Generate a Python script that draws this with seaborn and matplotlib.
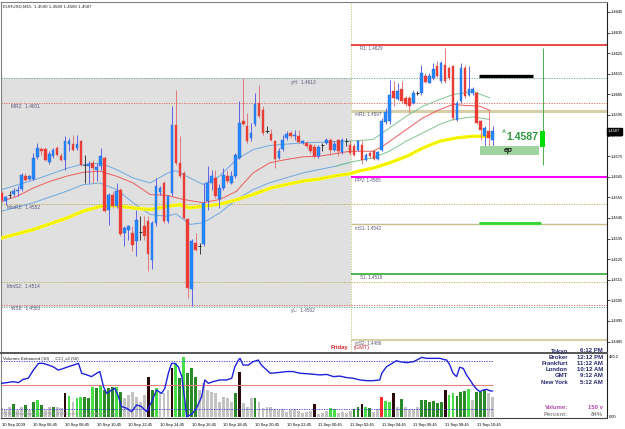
import numpy as np
import matplotlib
matplotlib.use("Agg")
import matplotlib.pyplot as plt
import seaborn as sns

# --- EURUSD M15 bars (bar 0 = 10 Sep 04:45) ---
bar_open = [
    1.45572, 1.45531, 1.45560, 1.45568, 1.45580, 1.45591, 1.45656, 1.45640, 1.45640, 1.45746,
    1.45785, 1.45785, 1.45721, 1.45753, 1.45790, 1.45753, 1.45733, 1.45811, 1.45811, 1.45788,
    1.45822, 1.45709, 1.45701, 1.45717, 1.45682, 1.45701, 1.45742, 1.45491, 1.45564, 1.45510,
    1.45585, 1.45378, 1.45394, 1.45378, 1.45337, 1.45386, 1.45410, 1.45434, 1.45248, 1.45426,
    1.45575, 1.45620, 1.45434, 1.45572, 1.45903, 1.45717, 1.45669, 1.45443, 1.45103, 1.45330,
    1.45313, 1.45322, 1.45532, 1.45621, 1.45645, 1.45540, 1.45596, 1.45653, 1.45621, 1.45653,
    1.45742, 1.45920, 1.45896, 1.45839, 1.45904, 1.46009, 1.45976, 1.45876, 1.45860, 1.45823,
    1.45742, 1.45786, 1.45839, 1.45863, 1.45847, 1.45847, 1.45812, 1.45815, 1.45802, 1.45795,
    1.45753, 1.45802, 1.45815, 1.45828, 1.45782, 1.45831, 1.45770, 1.45823, 1.45802, 1.45799,
    1.45782, 1.45802, 1.45731, 1.45766, 1.45774, 1.45737, 1.45782, 1.45915, 1.45920, 1.46065,
    1.46028, 1.46074, 1.46033, 1.46033, 1.46009, 1.46057, 1.46057, 1.46141, 1.46106, 1.46130,
    1.46187, 1.46114, 1.46195, 1.46179, 1.46187, 1.45928, 1.46017, 1.46179, 1.46049, 1.46057,
    1.46057, 1.45920, 1.45847, 1.45874, 1.45831,
]
bar_high = [
    1.45580, 1.45559, 1.45580, 1.45596, 1.45604, 1.45669, 1.45669, 1.45661, 1.45766, 1.45814,
    1.45795, 1.45795, 1.45774, 1.45790, 1.45801, 1.45766, 1.45847, 1.45839, 1.45855, 1.45855,
    1.45830, 1.45758, 1.45725, 1.45733, 1.45717, 1.45790, 1.45750, 1.45572, 1.45580, 1.45620,
    1.45596, 1.45410, 1.45418, 1.45410, 1.45491, 1.45459, 1.45459, 1.45459, 1.45434, 1.45644,
    1.45604, 1.45628, 1.45564, 1.45992, 1.46073, 1.45847, 1.45677, 1.45451, 1.45346, 1.45378,
    1.45330, 1.45621, 1.45702, 1.45685, 1.45685, 1.45613, 1.45693, 1.45685, 1.45677, 1.45766,
    1.46017, 1.46130, 1.45960, 1.45912, 1.46057, 1.46098, 1.45993, 1.45896, 1.45880, 1.45831,
    1.45790, 1.45855, 1.45871, 1.45871, 1.45876, 1.45879, 1.45831, 1.45823, 1.45815, 1.45807,
    1.45802, 1.45815, 1.45839, 1.45839, 1.45823, 1.45834, 1.45839, 1.45839, 1.45831, 1.45815,
    1.45831, 1.45831, 1.45766, 1.45774, 1.45782, 1.45774, 1.45936, 1.45985, 1.46122, 1.46114,
    1.46106, 1.46114, 1.46044, 1.46041, 1.46073, 1.46065, 1.46195, 1.46154, 1.46154, 1.46200,
    1.46211, 1.46211, 1.46276, 1.46187, 1.46195, 1.46017, 1.46203, 1.46195, 1.46187, 1.46085,
    1.46065, 1.45928, 1.45896, 1.45976, 1.45896,
]
bar_low = [
    1.45527, 1.45515, 1.45547, 1.45559, 1.45559, 1.45580, 1.45628, 1.45633, 1.45636, 1.45737,
    1.45758, 1.45725, 1.45714, 1.45742, 1.45750, 1.45725, 1.45685, 1.45774, 1.45774, 1.45782,
    1.45701, 1.45620, 1.45620, 1.45620, 1.45628, 1.45685, 1.45480, 1.45418, 1.45499, 1.45499,
    1.45362, 1.45313, 1.45345, 1.45289, 1.45264, 1.45345, 1.45345, 1.45192, 1.45200, 1.45410,
    1.45564, 1.45426, 1.45426, 1.45556, 1.45709, 1.45644, 1.45443, 1.45063, 1.45022, 1.45289,
    1.45273, 1.45313, 1.45491, 1.45588, 1.45548, 1.45499, 1.45588, 1.45621, 1.45613, 1.45645,
    1.45734, 1.45896, 1.45815, 1.45823, 1.45896, 1.45936, 1.45855, 1.45863, 1.45823, 1.45693,
    1.45734, 1.45774, 1.45831, 1.45839, 1.45831, 1.45815, 1.45807, 1.45790, 1.45766, 1.45742,
    1.45742, 1.45774, 1.45807, 1.45758, 1.45774, 1.45753, 1.45763, 1.45799, 1.45758, 1.45750,
    1.45774, 1.45714, 1.45726, 1.45742, 1.45731, 1.45731, 1.45774, 1.45904, 1.45904, 1.45993,
    1.46022, 1.46009, 1.45993, 1.45960, 1.46001, 1.46049, 1.46049, 1.46103, 1.46103, 1.46122,
    1.46135, 1.46106, 1.46106, 1.46122, 1.45928, 1.45920, 1.46009, 1.46033, 1.46041, 1.46049,
    1.45908, 1.45831, 1.45799, 1.45799, 1.45799,
]
bar_close = [
    1.45537, 1.45552, 1.45562, 1.45580, 1.45585, 1.45661, 1.45636, 1.45653, 1.45742, 1.45790,
    1.45774, 1.45733, 1.45759, 1.45782, 1.45758, 1.45733, 1.45822, 1.45822, 1.45782, 1.45811,
    1.45709, 1.45707, 1.45712, 1.45693, 1.45696, 1.45750, 1.45483, 1.45564, 1.45507, 1.45580,
    1.45370, 1.45402, 1.45410, 1.45321, 1.45439, 1.45384, 1.45362, 1.45273, 1.45426, 1.45604,
    1.45596, 1.45434, 1.45556, 1.45903, 1.45717, 1.45653, 1.45451, 1.45111, 1.45338, 1.45297,
    1.45315, 1.45524, 1.45621, 1.45653, 1.45556, 1.45596, 1.45661, 1.45629, 1.45653, 1.45758,
    1.45912, 1.45904, 1.45823, 1.45863, 1.46001, 1.45944, 1.45863, 1.45874, 1.45831, 1.45734,
    1.45774, 1.45831, 1.45860, 1.45850, 1.45855, 1.45818, 1.45823, 1.45799, 1.45774, 1.45750,
    1.45795, 1.45803, 1.45831, 1.45779, 1.45807, 1.45774, 1.45831, 1.45824, 1.45766, 1.45758,
    1.45823, 1.45731, 1.45758, 1.45750, 1.45734, 1.45769, 1.45920, 1.45963, 1.46049, 1.46033,
    1.46065, 1.46017, 1.46001, 1.45993, 1.46057, 1.46059, 1.46154, 1.46109, 1.46141, 1.46174,
    1.46141, 1.46203, 1.46114, 1.46130, 1.45936, 1.46009, 1.46179, 1.46041, 1.46077, 1.46077,
    1.45912, 1.45879, 1.45887, 1.45839, 1.45874,
]

# tick volume per bar and its "Volumes Enhanced" class
# g = grey, d = dark green, l = light green, k = black, r = red
bar_volume = [
    67, 54, 74, 100, 54, 74, 92, 54, 118, 130,
    92, 54, 74, 79, 74, 67, 182, 161, 118, 143,
    156, 151, 143, 228, 220, 246, 207, 220, 233, 233,
    194, 143, 169, 194, 156, 118, 169, 309, 207, 220,
    194, 182, 207, 373, 411, 297, 462, 335, 373, 309,
    207, 258, 207, 194, 182, 118, 156, 143, 118, 182,
    348, 105, 79, 143, 143, 118, 67, 79, 74, 59,
    54, 64, 41, 54, 59, 49, 33, 41, 49, 100,
    20, 28, 49, 67, 59, 28, 41, 33, 49, 59,
    74, 100, 74, 67, 41, 59, 151, 125, 118, 182,
    74, 136, 74, 59, 59, 74, 130, 130, 118, 125,
    110, 118, 207, 169, 182, 161, 194, 202, 212, 130,
    194, 194, 207, 182, 156,
]
volume_class = list(
    "gggdggdgdl" "dggdggklgl" "lddldldddl" "dggggggkdl" "gggkldlddd"
    "gggggggggd" "kgggdggggg" "gggggggggk" "gggllggggd" "dkldggrllk"
    "gdggggdddd" "ddklldddlg" "dddgg"
)

# moving averages, sampled at bar positions
slow_ma_bar = [0, 8, 16.5, 20.5, 25, 29, 33, 37.5, 42, 45, 47.5, 51, 55, 59.5, 63.5,
               68, 72, 76, 80.4, 84.7, 88, 90, 94, 98, 102.4, 106.4, 110.7, 115, 119, 123.3]
slow_ma = [1.45353, 1.45394, 1.45450, 1.45483, 1.45507, 1.45510, 1.45499, 1.45491, 1.45507,
           1.45515, 1.45499, 1.45507, 1.45516, 1.45540, 1.45564, 1.45596, 1.45613, 1.45629,
           1.45640, 1.45656, 1.45665, 1.45677, 1.45693, 1.45718, 1.45750, 1.45790, 1.45823,
           1.45839, 1.45847, 1.45847]
mid_ma_bar = [0, 4, 8, 12.2, 16.4, 20.6, 24.8, 29, 33.2, 37.5, 41.7, 45.9, 50.9, 55.1, 59.3,
              63.5, 67.7, 71.9, 76.1, 80.3, 84.5, 87.9, 93.8, 96.3, 102.2, 106.4, 110.6, 114,
              117.4, 120.7, 123.3]
mid_ma = [1.45531, 1.45556, 1.45596, 1.45628, 1.45653, 1.45672, 1.45677, 1.45653, 1.45620,
          1.45564, 1.45560, 1.45540, 1.45524, 1.45540, 1.45580, 1.45669, 1.45718, 1.45734,
          1.45747, 1.45750, 1.45763, 1.45774, 1.45774, 1.45799, 1.45879, 1.45936, 1.45976,
          1.46001, 1.45996, 1.45993, 1.45973]
upper_band_bar = [0, 8.4, 16.8, 20, 25, 29, 33.2, 37.5, 42, 44, 46.6, 50.9, 55, 59.3, 63.5,
                  67.7, 76.1, 87.9, 93.8, 102.2, 106.4, 110.6, 114, 119, 123.3]
upper_band = [1.45588, 1.45636, 1.45693, 1.45709, 1.45717, 1.45685, 1.45644, 1.45620, 1.45669,
              1.45680, 1.45653, 1.45613, 1.45653, 1.45734, 1.45782, 1.45802, 1.45815, 1.45823,
              1.45831, 1.45944, 1.45993, 1.46025, 1.46049, 1.46065, 1.46033]
lower_band_bar = [0, 8, 16.4, 20.6, 24.8, 29, 33.2, 37.5, 41.7, 44, 47.6, 50.9, 55.1, 59.3,
                  63.5, 67.7, 76.1, 84.5, 87.9, 93.8, 97.9, 102.2, 106.4, 110.6, 114, 119, 123.3]
lower_band = [1.45483, 1.45524, 1.45580, 1.45612, 1.45620, 1.45588, 1.45524, 1.45467, 1.45459,
              1.45470, 1.45419, 1.45427, 1.45475, 1.45540, 1.45588, 1.45621, 1.45669, 1.45702,
              1.45720, 1.45742, 1.45774, 1.45823, 1.45863, 1.45904, 1.45928, 1.45941, 1.45928]

# CCI(50) in the lower pane
cci_bar = [0, 1.3, 2.9, 4.2, 5.5, 6.7, 8, 9.3, 10.5, 11.8, 13, 14.3, 15.6, 16.8, 18.1, 19.4,
           20.2, 21.5, 22.7, 24, 24.8, 25.7, 26.5, 27.8, 28.6, 29.5, 30.3, 31.6, 32.8, 34.1,
           35.3, 36.6, 37.9, 39.1, 40.4, 41.2, 42.1, 42.9, 43.8, 44.6, 45.5, 46.3, 46.7, 48,
           49.2, 50.5, 51.3, 52.2, 53.4, 55.1, 56.8, 58.1, 58.9, 59.8, 60.2, 61, 62.3, 63.5,
           64.8, 65.6, 66.5, 67.8, 69.4, 72, 73.6, 75.3, 77.9, 80.4, 82.1, 83.8, 85.4, 87.1,
           88.8, 90.5, 92.2, 93.8, 95.5, 96, 97.2, 98.9, 99.7, 100.6, 102.3, 104, 105.2, 106.1,
           107.3, 109, 110.7, 111.5, 112.4, 113.2, 114, 114.9, 115.7, 116.6, 117.4, 118.3,
           119.1, 120, 120.8, 121.6, 122.5, 123.3, 124]
cci_value = [7, 10, 14, 10, 24, 28, 62, 90, 90, 83, 76, 62, 69, 76, 83, 90, 49, 42, 35, 49,
             56, -7, -35, -21, -14, -49, -90, -97, -111, -83, -90, -111, -69, -21, -35, -14,
             49, 90, 90, 76, 35, -69, -132, -122, -97, -49, 21, 7, 14, 21, 21, 28, 76, 104,
             111, 83, 83, 97, 104, 83, 69, 49, 51, 56, 56, 49, 46, 42, 44, 35, 37, 31, 28, 21,
             18, 18, 21, 49, 76, 93, 101, 97, 93, 97, 107, 115, 111, 111, 111, 107, 104, 83,
             49, 35, 74, 69, 42, 21, 0, -18, -28, -21, -18, -24, -25]

# pivot levels of the previous day (drawn over the whole width)
prev_level_names = ["yH", "MR2", "MmR2", "MmS2", "WS2", "yL"]
prev_level_prices = [1.4613, 1.4601, 1.4552, 1.4514, 1.4503, 1.4502]
# levels of the new day (drawn from the day separator on)
day_level_names = ["R1", "mR1", "PPV", "mS1", "S1", "mS2"]
day_level_prices = [1.4629, 1.4597, 1.4565, 1.4542, 1.4518, 1.4486]
day_start_bar = 88.2

price_ticks = [1.4485, 1.4495, 1.4505, 1.4515, 1.4525, 1.4535, 1.4545, 1.4555, 1.4565,
               1.4575, 1.4585, 1.4595, 1.4605, 1.4615, 1.4625, 1.4635, 1.4645]
time_label_bars = [0, 8, 16, 24, 32, 40, 48, 56, 64, 72, 80, 88, 96, 104, 112, 120]
time_labels = ["10 Sep 2009", "10 Sep 06:45", "10 Sep 08:45", "10 Sep 10:45", "10 Sep 12:45",
               "10 Sep 14:45", "10 Sep 16:45", "10 Sep 18:45", "10 Sep 20:45", "10 Sep 22:45",
               "11 Sep 00:45", "11 Sep 02:45", "11 Sep 04:45", "11 Sep 06:45", "11 Sep 08:45",
               "11 Sep 10:45"]

clock_cities = ["Tokyo", "Broker", "Frankfurt", "London", "GMT", "New York"]
clock_times = ["6:12 PM", "12:12 PM", "11:12 AM", "10:12 AM", "9:12 AM", "5:12 AM"]
last_price = 1.4587
bar_volume_now = "150 v"
bar_percent_now = "84%"

W, H, DPI = 625, 429, 100


def px_box(x0, y0, x1, y1):
    return [x0 / W, 1 - y1 / H, (x1 - x0) / W, (y1 - y0) / H]


def fig_text(fig, x, y, s, **kw):
    fig.text(x / W, 1 - y / H, s, **kw)


def split_at(xs, ys, cut):
    left = [(a, b) for a, b in zip(xs, ys) if a <= cut + 4]
    right = [(a, b) for a, b in zip(xs, ys) if a >= cut - 4]
    return list(zip(*left)), list(zip(*right))


def draw_chart():
    sns.set_style("white")
    plt.rcParams["font.family"] = ["Liberation Sans", "DejaVu Sans"]

    fig = plt.figure(figsize=(W / DPI, H / DPI), dpi=DPI)
    fig.patch.set_facecolor("white")
    ax = fig.add_axes(px_box(1, 2, 607, 352))
    axv = fig.add_axes(px_box(1, 353, 607, 418))
    axc = axv.twinx()

    x_range = (-0.18, 152.9)
    bars = np.arange(len(bar_open))
    o, h, l, c = (np.array(v) for v in (bar_open, bar_high, bar_low, bar_close))

    # --- 1. price pane ---
    ax.set_xlim(*x_range)
    ax.set_ylim(1.447995, 1.464985)

    # yesterday's range box
    y_hi = prev_level_prices[prev_level_names.index("yH")]
    y_lo = prev_level_prices[prev_level_names.index("yL")]
    ax.fill_between([x_range[0], day_start_bar], y_lo, y_hi, color="#e0e0e0", lw=0, zorder=0.5)

    prev_style = {"yH": "#5fa89a", "MR2": "#e06060", "MmR2": "#b8a848",
                  "MmS2": "#b8a848", "WS2": "#e06060", "yL": "#5fa89a"}
    prev_label_x = {"yH": 73, "MR2": 2.4, "MmR2": 1.3, "MmS2": 1.3, "WS2": 2.4, "yL": 73}
    for name, price in zip(prev_level_names, prev_level_prices):
        ax.axhline(price, color=prev_style[name], lw=0.6, ls=(0, (1.5, 1.5)), zorder=1)
        ax.annotate(f"{name}:  {price:.4f}", (prev_label_x[name], price), xytext=(0, -1.2),
                    textcoords="offset points", va="top", fontsize=3.4, color="#55557a", zorder=6)

    day_style = {"R1": ("#e01818", 1.1), "mR1": ("#d6cfa8", 2.2), "PPV": ("#ff00ff", 1.5),
                 "mS1": ("#c8c08a", 1.0), "S1": ("#20a020", 1.1), "mS2": ("#d6cfa8", 1.6)}
    day_label_x = {"R1": 90.5, "mR1": 89.2, "PPV": 89.2, "mS1": 89.2, "S1": 90.5, "mS2": 89.2}
    for name, price in zip(day_level_names, day_level_prices):
        col, lw = day_style[name]
        ax.hlines(price, day_start_bar, x_range[1], color=col, lw=lw, zorder=1.2)
        ax.annotate(f"{name}: {price:.4f}", (day_label_x[name], price), xytext=(0, -1.0),
                    textcoords="offset points", va="top", fontsize=3.3, color="#55557a", zorder=6)

    ax.axvline(day_start_bar, color="#c0c070", lw=0.6, ls=(0, (1.5, 1.5)), zorder=1)

    # moving averages
    sns.lineplot(x=slow_ma_bar, y=slow_ma, ax=ax, color="#ffff00", linewidth=2.4, zorder=3)
    sns.lineplot(x=slow_ma_bar, y=slow_ma, ax=ax, color="#8a8a10", linewidth=0.5,
                 linestyle=(0, (1, 2.5)), zorder=3.1)
    sns.lineplot(x=mid_ma_bar, y=mid_ma, ax=ax, color="#ee5b5b", linewidth=0.7, zorder=2.5)
    for bx, by in ((upper_band_bar, upper_band), (lower_band_bar, lower_band)):
        (lx, ly), (rx, ry) = split_at(bx, by, day_start_bar)
        sns.lineplot(x=list(lx), y=list(ly), ax=ax, color="#6fa8e0", linewidth=0.7, zorder=2.4)
        sns.lineplot(x=list(rx), y=list(ry), ax=ax, color="#80c490", linewidth=0.7, zorder=2.4)

    # candles
    up = c - o > 0.00003
    down = o - c > 0.00003
    doji = ~(up | down)
    ax.vlines(bars[up], l[up], h[up], color="#4f4fe6", lw=0.6, zorder=4)
    ax.vlines(bars[down], l[down], h[down], color="#e36a6a", lw=0.6, zorder=4)
    ax.vlines(bars[doji], l[doji], h[doji], color="#202020", lw=0.6, zorder=4)
    ax.bar(bars[up], (c - o)[up], bottom=o[up], width=0.66, color="#1e8cff",
           edgecolor="#3a5ad8", linewidth=0.3, zorder=5)
    ax.bar(bars[down], (o - c)[down], bottom=c[down], width=0.66, color="#ee3a32",
           edgecolor="#d84a4a", linewidth=0.3, zorder=5)
    ax.hlines(c[doji], bars[doji] - 0.4, bars[doji] + 0.4, color="#202020", lw=0.6, zorder=5)

    # trade objects at the right
    ax.hlines(1.4614, 120.5, 134.2, color="black", lw=2.4, zorder=6)
    ax.hlines(1.45426, 120.5, 136.2, color="#3ee03e", lw=2.2, zorder=6)
    ax.hlines(1.45426, 120.5, 136.2, color="#1a9a1a", lw=0.5, ls=(0, (1, 2)), zorder=6.1)
    ax.fill_between([120.8, 135.6], 1.45756, 1.45800, color="#9fd49f", lw=0, zorder=6)
    ax.text(127.9, 1.45778, "ep", ha="center", va="center", fontsize=5.5,
            fontweight="bold", fontstyle="italic", color="#111111", zorder=7)
    ax.text(126.3, 1.4586, "^", ha="left", va="center", fontsize=5, fontweight="bold",
            color="#2f9a3c", zorder=7)
    ax.text(127.6, 1.45845, f"{last_price:.4f}", ha="left", va="center", fontsize=7.5,
            fontweight="bold", color="#2f9a3c", zorder=7)
    ax.vlines(136.7, 1.45707, 1.46275, color="#4caf4c", lw=0.7, zorder=6)
    ax.fill_between([136.1, 137.3], 1.45795, 1.45872, color="#00dd00", lw=0, zorder=6.2)

    # day separator caption
    ax.text(83.0, 1.44821, "Friday", ha="left", va="center", fontsize=4.2,
            color="#d02828", fontweight="bold", zorder=7)
    ax.text(88.9, 1.44821, "(GMT)", ha="left", va="center", fontsize=4.0,
            color="#d02828", zorder=7)

    # price scale on the right
    ax.set_xticks([])
    ax.yaxis.tick_right()
    ax.set_yticks(price_ticks)
    ax.set_yticklabels([f"{t:.4f}" for t in price_ticks])
    ax.tick_params(axis="y", labelsize=2.9, length=2, width=0.5, pad=1, colors="black")
    ax.annotate(f"{last_price:.4f}", xy=(1, last_price), xycoords=("axes fraction", "data"),
                xytext=(0.8, 0), textcoords="offset points", va="center", ha="left",
                fontsize=2.9, color="white", annotation_clip=False, zorder=20,
                bbox=dict(boxstyle="square,pad=0.3", fc="black", ec="black"))
    for side in ("left", "top"):
        ax.spines[side].set_color("#808080")
        ax.spines[side].set_linewidth(0.8)
    ax.spines["right"].set_color("#202020")
    ax.spines["right"].set_linewidth(0.8)
    ax.spines["bottom"].set_visible(False)
    ax.set_xlabel("")
    ax.set_ylabel("")

    # --- 2. volume / CCI pane ---
    palette = {"g": "#c3c3c3", "d": "#2a8a2a", "l": "#46e046", "k": "#2a0808", "r": "#ff2a2a"}
    axv.set_xlim(*x_range)
    axv.set_ylim(-7.7, 490.9)
    axv.bar(bars, bar_volume, width=0.72, color=[palette[k] for k in volume_class],
            linewidth=0, zorder=2)
    axv.set_yticks([])
    axv.set_xticks(time_label_bars)
    axv.set_xticklabels(time_labels)
    for lbl in axv.get_xticklabels():
        lbl.set_horizontalalignment("left")
    axv.tick_params(axis="x", labelsize=3.0, length=2.5, width=0.5, pad=1, colors="black")
    axv.spines["top"].set_color("#555555")
    axv.spines["top"].set_linewidth(1.4)
    axv.spines["bottom"].set_color("#404040")
    axv.spines["bottom"].set_linewidth(0.8)
    axv.spines["left"].set_color("#808080")
    axv.spines["right"].set_color("#202020")
    axv.spines["right"].set_linewidth(0.8)

    axc.set_ylim(-137.5, 133.3)
    axc.set_yticks([])
    for side in axc.spines:
        axc.spines[side].set_visible(False)
    axc.hlines(0, x_range[0], 124, color="#e48080", lw=0.8, zorder=1)
    axc.hlines([100, -100], x_range[0], 124, color="#3030d8", lw=0.6,
               linestyles=(0, (1.5, 1.5)), zorder=1)
    sns.lineplot(x=cci_bar, y=cci_value, ax=axc, color="#1e22dc", linewidth=1.0, zorder=3)
    axc.set_ylabel("")
    axv.set_ylabel("")

    # --- 3. texts ---
    fig_text(fig, 3, 7, "EURUSD,M15  1.4590 1.4589 1.4580 1.4587", fontsize=3.2,
             va="center", color="#222222")
    fig_text(fig, 3, 359, "Volumes Enhanced (10)     CCI_v2 (50)", fontsize=3.2,
             va="center", color="#222222")
    fig_text(fig, 3, 414, "PDB - MetaTrader, (C) 2001-2009 MetaQuotes Software Corp.",
             fontsize=3.0, va="center", color="#9a9a9a")
    fig_text(fig, 609, 357, "460.2", fontsize=2.9, va="center", color="black")
    fig_text(fig, 609, 417, "0.00", fontsize=2.9, va="center", color="black")

    for k, (city, clock) in enumerate(zip(clock_cities, clock_times)):
        y = 351 + k * 6.2
        fig_text(fig, 568, y, city, ha="right", va="center", fontsize=4.3,
                 fontweight="bold", color="#26266e")
        fig_text(fig, 603, y, clock, ha="right", va="center", fontsize=4.3,
                 fontweight="bold", color="#26266e")
    fig_text(fig, 568, 407.5, "Volume:", ha="right", va="center", fontsize=4.3,
             fontweight="bold", color="#b048b0")
    fig_text(fig, 603, 407.5, bar_volume_now, ha="right", va="center", fontsize=4.3,
             fontweight="bold", color="#b048b0")
    fig_text(fig, 568, 415, "Percent:", ha="right", va="center", fontsize=4.3,
             fontweight="bold", color="#8a8a8a")
    fig_text(fig, 603, 415, bar_percent_now, ha="right", va="center", fontsize=4.3,
             fontweight="bold", color="#8a8a8a")

    fig.savefig("out.png", dpi=DPI)
    plt.close(fig)


if __name__ == "__main__":
    draw_chart()
